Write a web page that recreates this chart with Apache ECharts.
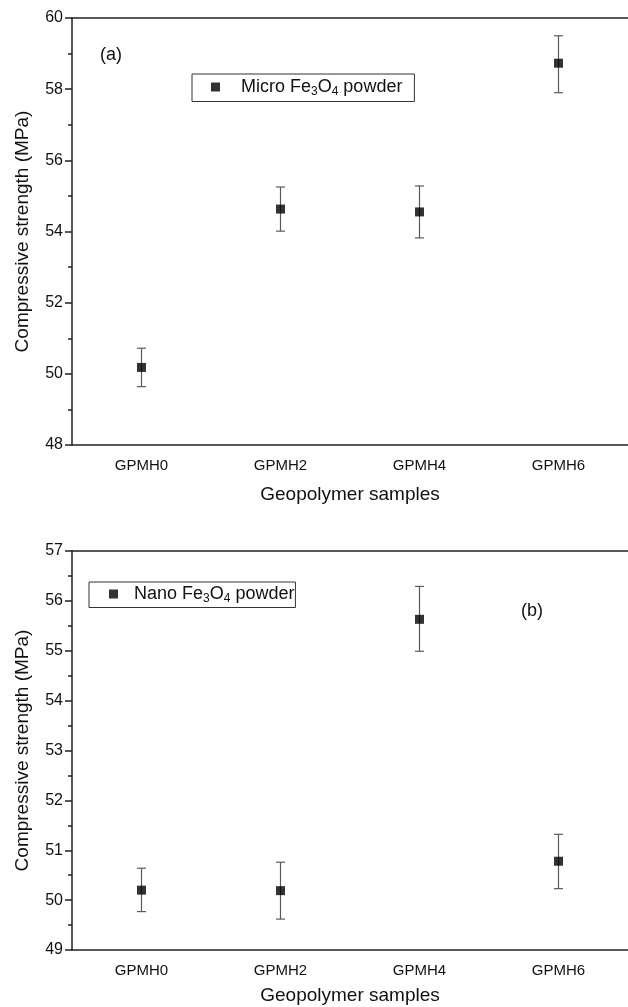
<!DOCTYPE html>
<html>
<head>
<meta charset="utf-8">
<script src="https://cdn.jsdelivr.net/npm/echarts@6/dist/echarts.min.js"></script>
<style>
html, body { margin: 0; padding: 0; background: #fff; }
#chart { width: 628px; height: 1007px; }
</style>
</head>
<body>
<div id="chart"></div>
<script>
// Sample labels shared by both panels
const samples = ['GPMH0', 'GPMH2', 'GPMH4', 'GPMH6'];

// (a) micro Fe3O4 powder: mean compressive strength and error-bar limits (MPa)
const microMean = [50.18, 54.63, 54.55, 58.73];
const microLow  = [49.64, 54.01, 53.82, 57.90];
const microHigh = [50.72, 55.25, 55.28, 59.50];

// (b) nano Fe3O4 powder
const nanoMean = [50.20, 50.19, 55.63, 50.78];
const nanoLow  = [49.77, 49.62, 54.99, 50.23];
const nanoHigh = [50.64, 50.76, 56.29, 51.32];

// Axis ranges
const microAxis = { min: 48, max: 60, interval: 2 };
const nanoAxis  = { min: 49, max: 57, interval: 1 };

const FONT = 'Liberation Sans';
const INK = '#111';
const AXIS = '#222';

function errorBarItem(params, api) {
  const x = api.value(0);
  const lo = api.coord([x, api.value(1)]);
  const hi = api.coord([x, api.value(2)]);
  const half = 4.5;
  const style = { stroke: '#5a5a5a', lineWidth: 1.2 };
  return {
    type: 'group',
    children: [
      { type: 'line', shape: { x1: lo[0], y1: lo[1], x2: hi[0], y2: hi[1] }, style },
      { type: 'line', shape: { x1: lo[0] - half, y1: lo[1], x2: lo[0] + half, y2: lo[1] }, style },
      { type: 'line', shape: { x1: hi[0] - half, y1: hi[1], x2: hi[0] + half, y2: hi[1] }, style }
    ]
  };
}

function grid(top, height) {
  return { left: 72, top: top, width: 557, height: height };
}

function mainX(gridIndex, nameGap) {
  return {
    type: 'category', gridIndex, data: samples, boundaryGap: true,
    name: 'Geopolymer samples', nameLocation: 'middle', nameGap,
    nameTextStyle: { fontFamily: FONT, fontSize: 19, color: INK },
    axisLine: { lineStyle: { color: AXIS, width: 1.5 } },
    axisTick: { alignWithLabel: true, length: 7, lineStyle: { color: AXIS, width: 1.5 } },
    axisLabel: { fontFamily: FONT, fontSize: 15, color: INK, margin: 13 },
    splitLine: { show: false }
  };
}

// Short ticks on the band boundaries between samples
function boundaryX(gridIndex) {
  return {
    type: 'category', gridIndex, data: samples, boundaryGap: true, position: 'bottom',
    axisLine: { show: false },
    axisTick: { length: 4, lineStyle: { color: AXIS, width: 1.5 } },
    axisLabel: { show: false },
    splitLine: { show: false }
  };
}

// Plain frame line along the top of each panel
function topFrame(gridIndex) {
  return {
    type: 'category', gridIndex, data: samples, position: 'top',
    axisLine: { show: true, lineStyle: { color: AXIS, width: 1.5 } },
    axisTick: { show: false }, axisLabel: { show: false }, splitLine: { show: false }
  };
}

function valueY(gridIndex, range, nameGap) {
  return {
    type: 'value', gridIndex, min: range.min, max: range.max, interval: range.interval,
    name: 'Compressive strength (MPa)', nameLocation: 'middle', nameGap,
    nameTextStyle: { fontFamily: FONT, fontSize: 19, color: INK },
    axisLine: { show: true, lineStyle: { color: AXIS, width: 1.5 } },
    axisTick: { show: true, length: 7, lineStyle: { color: AXIS, width: 1.5 } },
    minorTick: { show: true, splitNumber: 2, length: 4, lineStyle: { color: AXIS, width: 1.5 } },
    axisLabel: { fontFamily: FONT, fontSize: 16, color: INK, margin: 9 },
    splitLine: { show: false }
  };
}

const richText = {
  n: { fontFamily: FONT, fontSize: 18, color: INK, lineHeight: 21 },
  s: { fontFamily: FONT, fontSize: 12, color: INK, lineHeight: 7, verticalAlign: 'bottom' }
};

function legend(name, left, top, padding, textPad) {
  return {
    data: [name], left, top, orient: 'horizontal',
    icon: 'rect', itemWidth: 9, itemHeight: 9, itemGap: 0,
    borderColor: '#333', borderWidth: 1, padding,
    formatter: n => n === 'micro'
      ? '{n|Micro Fe}{s|3}{n|O}{s|4}{n| powder}'
      : '{n|Nano Fe}{s|3}{n|O}{s|4}{n| powder}',
    textStyle: { rich: richText, padding: [0, 0, 0, textPad] },
    selectedMode: false
  };
}

const chart = echarts.init(document.getElementById('chart'), null, { renderer: 'canvas' });

chart.setOption({
  animation: false,
  backgroundColor: '#fff',
  grid: [grid(18, 427), grid(551, 399)],
  xAxis: [
    mainX(0, 40), boundaryX(0), topFrame(0),
    mainX(1, 36), boundaryX(1), topFrame(1)
  ],
  yAxis: [valueY(0, microAxis, 40), valueY(1, nanoAxis, 40)],
  legend: [
    legend('micro', 192, 74, [4, 12, 4, 19], 16),
    legend('nano', 89, 582, [3, 1, 3, 20], 11)
  ],
  graphic: [
    { type: 'text', left: 100, top: 46, style: { text: '(a)', font: '18px "Liberation Sans"', fill: INK } },
    { type: 'text', left: 521, top: 602, style: { text: '(b)', font: '18px "Liberation Sans"', fill: INK } }
  ],
  series: [
    {
      type: 'custom', xAxisIndex: 0, yAxisIndex: 0, renderItem: errorBarItem,
      data: samples.map((s, i) => [i, microLow[i], microHigh[i]]), z: 2, silent: true
    },
    {
      name: 'micro', type: 'scatter', xAxisIndex: 0, yAxisIndex: 0,
      symbol: 'rect', symbolSize: 9, itemStyle: { color: '#000' },
      data: samples.map((s, i) => [i, microMean[i]]), z: 3
    },
    {
      type: 'custom', xAxisIndex: 3, yAxisIndex: 1, renderItem: errorBarItem,
      data: samples.map((s, i) => [i, nanoLow[i], nanoHigh[i]]), z: 2, silent: true
    },
    {
      name: 'nano', type: 'scatter', xAxisIndex: 3, yAxisIndex: 1,
      symbol: 'rect', symbolSize: 9, itemStyle: { color: '#000' },
      data: samples.map((s, i) => [i, nanoMean[i]]), z: 3
    }
  ]
});
</script>
</body>
</html>
